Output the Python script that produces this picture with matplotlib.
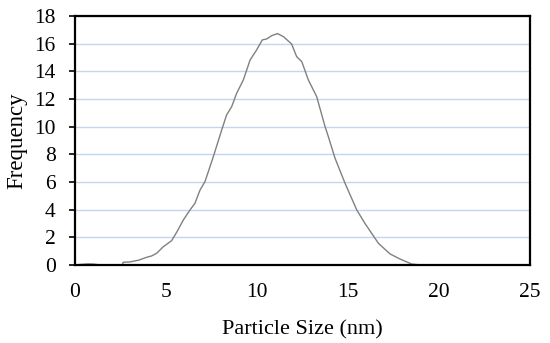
import matplotlib.pyplot as plt

# particle size distribution
size_nm = [0.0, 0.4, 0.7, 1.0, 1.3, 1.6, 2.0, 2.4, 2.6, 2.65, 3.0, 3.5, 3.94, 4.2, 4.49,
           4.85, 5.31, 5.6, 5.95, 6.32, 6.59, 6.87, 7.14, 7.6, 8.06, 8.33, 8.61, 8.88,
           9.25, 9.62, 9.98, 10.29, 10.53, 10.81, 11.12, 11.45, 11.9, 12.18, 12.46,
           12.82, 13.28, 13.74, 13.92, 14.29, 14.84, 15.48, 15.93, 16.67, 17.31,
           17.86, 18.5, 19.0, 20.0, 20.5]
frequency = [0.0, 0.05, 0.08, 0.07, 0.02, 0.0, 0.0, 0.0, 0.0, 0.2, 0.22, 0.35, 0.56, 0.65,
             0.85, 1.32, 1.76, 2.4, 3.25, 3.98, 4.46, 5.42, 6.02, 7.83, 9.76, 10.85,
             11.45, 12.41, 13.38, 14.82, 15.55, 16.27, 16.34, 16.58, 16.73, 16.51,
             15.98, 15.06, 14.7, 13.38, 12.17, 10.0, 9.28, 7.71, 5.9, 3.98, 3.01, 1.57,
             0.8, 0.43, 0.07, 0.0, 0.0, 0.0]

plt.rcParams['font.family'] = ['Liberation Serif', 'DejaVu Serif']

fig = plt.figure(figsize=(5.5, 3.43), dpi=100)
ax = fig.add_axes([75 / 550, 1 - 265 / 343, 455 / 550, 249 / 343])

ax.plot(size_nm, frequency, color='#808080', lw=1.0)

ax.set_xlim(0, 25)
ax.set_ylim(0, 18)
ax.set_xticks(range(0, 26, 5))
ax.set_yticks(range(0, 19, 2))
ax.grid(axis='y', color='#c2d6ee', lw=1.0)
ax.set_axisbelow(True)

for sp in ax.spines.values():
    sp.set_linewidth(1.6)
    sp.set_color('black')

ax.tick_params(axis='y', length=4, width=1.2, pad=10, labelsize=15.5)
ax.tick_params(axis='x', length=0, pad=13, labelsize=15.5)

ax.set_xlabel('Particle Size (nm)', fontsize=16, labelpad=13)
ax.set_ylabel('Frequency', fontsize=16.5)
ax.yaxis.set_label_coords(-48 / 455, 0.5)

fig.savefig('out.png', dpi=100)
